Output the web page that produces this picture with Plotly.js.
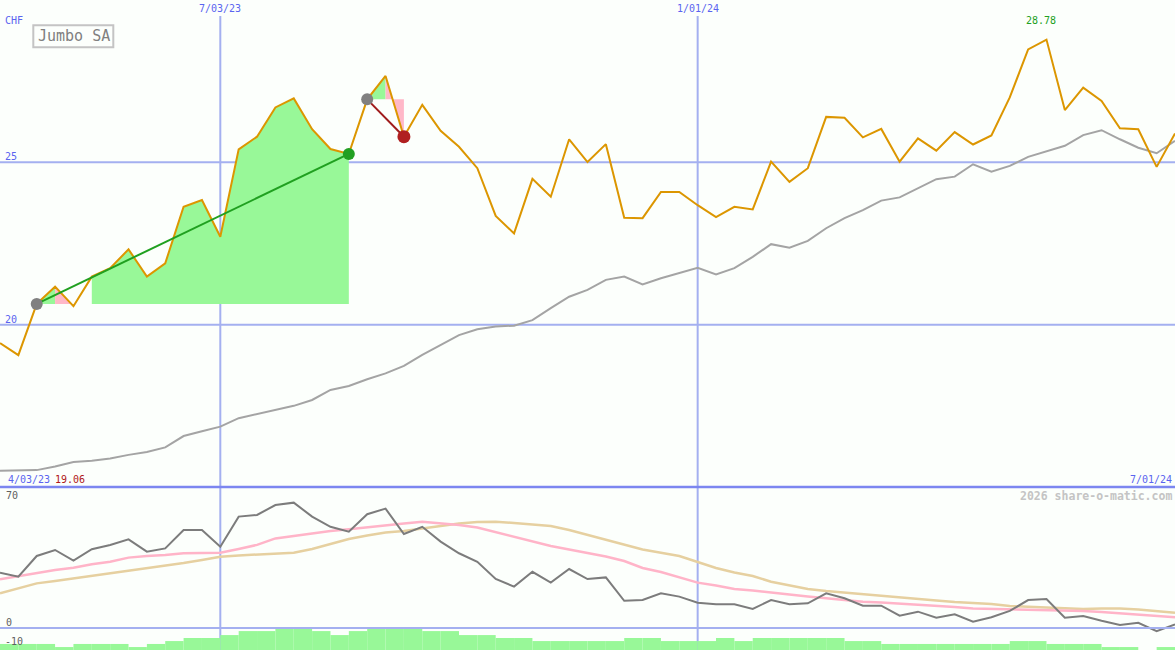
<!DOCTYPE html>
<html>
<head>
<meta charset="utf-8">
<script src="https://cdn.plot.ly/plotly-3.0.1.min.js"></script>
<style>
html,body{margin:0;padding:0;background:#fcfffc;}
#chart{width:1175px;height:650px;}
</style>
</head>
<body>
<div id="chart"></div>
<script>
// ---- data (weekly, Mondays) ----
const weeks = ["2023-04-10","2023-04-17","2023-04-24","2023-05-01","2023-05-08","2023-05-15","2023-05-22","2023-05-29",
"2023-06-05","2023-06-12","2023-06-19","2023-06-26","2023-07-03","2023-07-10","2023-07-17","2023-07-24","2023-07-31",
"2023-08-07","2023-08-14","2023-08-21","2023-08-28","2023-09-04","2023-09-11","2023-09-18","2023-09-25","2023-10-02",
"2023-10-09","2023-10-16","2023-10-23","2023-10-30","2023-11-06","2023-11-13","2023-11-20","2023-11-27","2023-12-04",
"2023-12-11","2023-12-18","2023-12-25","2024-01-01","2024-01-08","2024-01-15","2024-01-22","2024-01-29","2024-02-05",
"2024-02-12","2024-02-19","2024-02-26","2024-03-04","2024-03-11","2024-03-18","2024-03-25","2024-04-01","2024-04-08",
"2024-04-15","2024-04-22","2024-04-29","2024-05-06","2024-05-13","2024-05-20","2024-05-27","2024-06-03","2024-06-10",
"2024-06-17","2024-06-24","2024-07-01"];

const price = [19.43,19.06,20.64,21.17,20.57,21.48,21.74,22.32,21.48,21.89,23.63,23.84,22.71,25.40,25.79,26.69,26.97,
26.02,25.41,25.26,26.94,27.66,25.79,26.77,25.97,25.48,24.82,23.35,22.81,24.49,23.94,25.71,25.01,25.56,23.29,23.28,
24.09,24.09,23.68,23.31,23.63,23.55,25.02,24.40,24.82,26.40,26.37,25.77,26.03,25.02,25.74,25.36,25.93,25.55,25.83,
27.00,28.48,28.78,26.61,27.30,26.89,26.05,26.02,24.86,25.89];

const movingAvg = [15.50,15.51,15.52,15.63,15.77,15.81,15.88,15.99,16.08,16.22,16.57,16.72,16.86,17.12,17.24,17.37,
17.50,17.68,17.99,18.11,18.32,18.50,18.73,19.07,19.37,19.68,19.86,19.94,19.97,20.14,20.51,20.86,21.07,21.38,21.48,
21.24,21.43,21.60,21.75,21.55,21.74,22.09,22.48,22.37,22.58,22.97,23.28,23.53,23.82,23.92,24.20,24.48,24.56,24.94,
24.71,24.89,25.17,25.33,25.51,25.84,25.99,25.71,25.45,25.28,25.66];

const oscillator = [30.5,28.3,39.7,43.0,37.1,43.4,45.8,48.9,42.1,43.9,54.0,54.0,44.8,61.4,62.3,67.8,69.1,61.4,55.8,53.1,
62.7,65.8,51.8,55.8,47.6,41.2,36.5,27.0,22.8,31.0,25.0,32.5,27.0,27.9,15.0,15.4,19.1,17.3,13.9,13.1,13.1,10.5,15.4,
13.1,13.6,19.1,16.4,12.3,12.3,6.8,9.0,5.7,7.6,3.5,5.9,9.4,15.4,16.0,5.7,6.6,4.0,1.7,2.9,-1.7,2.0];

const signalPink = [26.9,28.7,30.5,32.0,33.2,35.1,36.5,38.8,39.7,40.2,41.2,41.5,41.5,43.6,45.8,49.4,50.9,52.2,53.5,54.4,
55.5,56.9,57.6,58.6,57.9,56.8,55.4,52.9,50.2,47.7,45.2,43.3,41.5,39.4,36.9,33.1,30.9,28.1,25.0,23.4,21.5,20.7,19.8,
18.5,17.4,16.5,15.7,14.5,14.1,13.5,13.0,12.1,11.6,10.7,10.5,10.5,10.2,10.2,9.9,9.4,8.8,8.0,7.4,6.6,5.9];

const signalTan = [19.1,22.0,24.6,25.9,27.3,28.7,30.1,31.4,32.8,34.2,35.8,37.5,39.3,40.0,40.5,41.1,41.5,43.6,46.3,49.1,
51.0,52.6,53.5,54.9,56.5,57.6,58.4,58.6,57.9,57.1,56.2,54.0,51.3,48.8,46.0,43.3,41.5,39.7,36.4,33.1,30.6,28.7,25.5,
23.4,21.5,20.4,19.6,18.5,17.6,17.1,16.3,15.2,14.3,13.8,13.2,12.1,11.6,11.2,10.7,10.5,10.7,10.7,10.2,9.4,8.4];

// weekly histogram (top value of each weekly step, lower panel units)
const histTop = [-8.8,-8.8,-8.8,-10.5,-8.8,-8.8,-8.8,-10.5,-8.8,-7.2,-5.5,-5.5,-3.9,-1.7,-1.7,0,0,-1.7,-3.9,-1.7,
0,0,0,-1.7,-1.7,-3.9,-3.9,-5.5,-5.5,-7.2,-7.2,-7.2,-7.2,-7.2,-5.5,-5.5,-7.2,-7.2,-7.2,-5.5,-7.2,-5.5,-5.5,-5.5,
-5.5,-5.5,-7.2,-7.2,-8.8,-8.8,-8.8,-8.8,-8.8,-8.8,-8.8,-7.2,-7.2,-8.8,-8.8,-8.8,-10.5,-10.5,-12.13,-10.5];

// trend segments (week indices)
const trendUp = [2, 19];
const trendDown = [20, 22];

const dateTicks = ["2023-07-03","2024-01-01"];
const dateTickLabels = ["7/03/23","1/01/24"];
const priceTicks = [25, 20];
const oscTicks = [70, 0, -10];
const lowLabel = "19.06", highLabel = "28.78";
const startLabel = "4/03/23", endLabel = "7/01/24";

// ---- styling ----
const W = 1175, H = 650;
const px = x => x / W, py = y => 1 - y / H;
const BG = '#fcfffc';
const BLUE = '#5a64f0';
const GRID = 'rgb(164,176,240)';
const GREENF = '#98f898', PINKF = '#ffb8c8';
const FONT = 'DejaVu Sans Mono, Liberation Mono, monospace';
const HBASE = -12.13;
const TOPDOM = 163 / 650;

const traces = [];

// fills between price and the starting level of a trend
function addFills(a, b) {
  const base = price[a];
  let segs = [];
  for (let k = a; k < b; k++) {
    if (price[k] < base) continue;
    const col = price[k + 1] >= base ? GREENF : PINKF;
    const last = segs[segs.length - 1];
    if (last && last.col === col && last.end === k) last.end = k + 1;
    else segs.push({start: k, end: k + 1, col: col});
  }
  segs.forEach(s => {
    const xs = weeks.slice(s.start, s.end + 1);
    const ys = price.slice(s.start, s.end + 1);
    traces.push({
      x: xs.concat([weeks[s.end], weeks[s.start]]),
      y: ys.concat([base, base]),
      type: 'scatter', mode: 'lines', fill: 'toself', fillcolor: s.col,
      line: {width: 0, color: s.col}, hoverinfo: 'skip', xaxis: 'x', yaxis: 'y'
    });
  });
}
addFills(trendUp[0], trendUp[1]);
addFills(trendDown[0], trendDown[1]);

// moving average
traces.push({x: weeks, y: movingAvg, type: 'scatter', mode: 'lines',
  line: {color: '#a4a4a4', width: 2}, xaxis: 'x', yaxis: 'y'});
// price
traces.push({x: weeks, y: price, type: 'scatter', mode: 'lines',
  line: {color: '#dc9600', width: 2}, xaxis: 'x', yaxis: 'y'});
// trend lines
traces.push({x: [weeks[trendUp[0]], weeks[trendUp[1]]], y: [price[trendUp[0]], price[trendUp[1]]],
  type: 'scatter', mode: 'lines', line: {color: '#20a020', width: 2}, xaxis: 'x', yaxis: 'y'});
traces.push({x: [weeks[trendDown[0]], weeks[trendDown[1]]], y: [price[trendDown[0]], price[trendDown[1]]],
  type: 'scatter', mode: 'lines', line: {color: '#a01c1c', width: 2}, xaxis: 'x', yaxis: 'y'});
// markers
traces.push({x: [weeks[trendUp[0]], weeks[trendDown[0]]], y: [price[trendUp[0]], price[trendDown[0]]],
  type: 'scatter', mode: 'markers', marker: {color: '#808080', size: 12}, xaxis: 'x', yaxis: 'y'});
traces.push({x: [weeks[trendUp[1]]], y: [price[trendUp[1]]],
  type: 'scatter', mode: 'markers', marker: {color: '#22a022', size: 12}, xaxis: 'x', yaxis: 'y'});
traces.push({x: [weeks[trendDown[1]]], y: [price[trendDown[1]]],
  type: 'scatter', mode: 'markers', marker: {color: '#b02020', size: 13}, xaxis: 'x', yaxis: 'y'});

// lower panel
traces.push({x: weeks.slice(0, histTop.length), y: histTop.map(v => v - HBASE), base: HBASE,
  type: 'bar', width: 7 * 86400000, offset: 0,
  marker: {color: GREENF, line: {width: 0}}, xaxis: 'x', yaxis: 'y2'});
traces.push({x: weeks, y: signalTan, type: 'scatter', mode: 'lines',
  line: {color: '#e6d0a0', width: 2.5}, xaxis: 'x', yaxis: 'y2'});
traces.push({x: weeks, y: signalPink, type: 'scatter', mode: 'lines',
  line: {color: '#ffb4c8', width: 2.5}, xaxis: 'x', yaxis: 'y2'});
traces.push({x: weeks, y: oscillator, type: 'scatter', mode: 'lines',
  line: {color: '#7c7c7c', width: 2}, xaxis: 'x', yaxis: 'y2'});

const shapes = [];
priceTicks.forEach(v => shapes.push({type: 'line', xref: 'paper', x0: 0, x1: 1, yref: 'y', y0: v, y1: v,
  line: {color: GRID, width: 2}, layer: 'below'}));
dateTicks.forEach(d => shapes.push({type: 'line', xref: 'x', x0: d, x1: d, yref: 'paper', y0: 0, y1: py(16),
  line: {color: GRID, width: 2}, layer: 'below'}));
shapes.push({type: 'line', xref: 'paper', x0: 0, x1: 1, yref: 'y2', y0: 0, y1: 0,
  line: {color: GRID, width: 2}, layer: 'above'});
shapes.push({type: 'line', xref: 'paper', x0: 0, x1: 1, yref: 'paper', y0: TOPDOM, y1: TOPDOM,
  line: {color: 'rgb(124,134,240)', width: 2.5}, layer: 'above'});
shapes.push({type: 'rect', xref: 'paper', yref: 'paper', x0: px(33.3), x1: px(113.3), y0: py(47.3), y1: py(25.3),
  line: {color: '#c4c4c4', width: 2}, fillcolor: 'rgba(0,0,0,0)', layer: 'above'});

function ann(text, x, y, xanchor, color, size, extra) {
  return Object.assign({text: text, xref: 'paper', yref: 'paper', x: px(x), y: py(y), xanchor: xanchor,
    yanchor: 'middle', showarrow: false, font: {family: FONT, size: size || 10, color: color}, borderpad: 0}, extra || {});
}
const annotations = [
  ann('CHF', 4, 20, 'left', BLUE),
  ann(String(priceTicks[0]), 4, 156, 'left', BLUE),
  ann(String(priceTicks[1]), 4, 319, 'left', BLUE),
  ann(startLabel, 7, 479, 'left', BLUE),
  ann(lowLabel, 54, 479, 'left', '#b01818'),
  ann(endLabel, 1173, 479, 'right', BLUE),
  ann(highLabel, 1041, 21, 'center', '#22a022'),
  ann('2026 share-o-matic.com', 1173, 496, 'right', '#c4c4c4', 11.5, {}),
  ann(String(oscTicks[0]), 5, 495, 'left', '#606060'),
  ann(String(oscTicks[1]), 5, 622, 'left', '#606060'),
  ann(String(oscTicks[2]), 4, 641, 'left', '#606060'),
  ann('Jumbo SA', 74, 36.5, 'center', '#808080', 15)
];
annotations[7].font.weight = 'bold';
dateTicks.forEach((d, i) => annotations.push({text: dateTickLabels[i], xref: 'x', x: d, yref: 'paper', y: py(9),
  xanchor: 'center', yanchor: 'middle', showarrow: false, borderpad: 0, font: {family: FONT, size: 10, color: BLUE}}));

const layout = {
  width: W, height: H, margin: {l: 0, r: 0, t: 0, b: 0, pad: 0},
  paper_bgcolor: BG, plot_bgcolor: BG, showlegend: false,
  xaxis: {type: 'date', range: ['2023-04-10', '2024-07-01'], visible: false, fixedrange: true},
  yaxis: {domain: [TOPDOM, 1], range: [15, 30], visible: false, fixedrange: true},
  yaxis2: {domain: [0, TOPDOM], range: [HBASE, 77.73], visible: false, fixedrange: true},
  shapes: shapes, annotations: annotations, barmode: 'overlay'
};
Plotly.newPlot('chart', traces, layout, {staticPlot: true, displayModeBar: false});
</script>
</body>
</html>
